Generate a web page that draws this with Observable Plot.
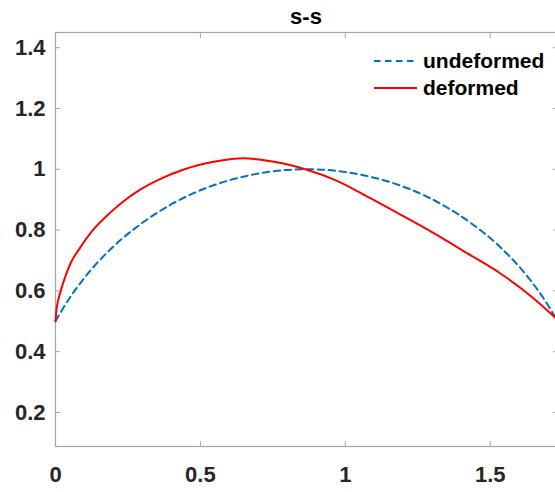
<!DOCTYPE html>
<html>
<head>
<meta charset="utf-8">
<script src="https://cdn.jsdelivr.net/npm/d3@7"></script>
<script src="https://cdn.jsdelivr.net/npm/@observablehq/plot@0.6"></script>
<style>
  html, body { margin: 0; padding: 0; background: #fff; overflow: hidden; width: 555px; height: 492px; }
  #wrap { position: relative; width: 557px; font-family: "Liberation Sans", Arial, sans-serif; }
  #title { height: 31px; width: 557px; padding-left: 55px; box-sizing: border-box; text-align: center; font-weight: bold; font-size: 22px; line-height: 34px; color: #000; }
  #legend { position: absolute; left: 373px; top: 47px; font-weight: bold; font-size: 21px; color: #000; }
  .item { display: flex; align-items: center; height: 27px; }
  .item svg { margin-right: 6px; }
</style>
</head>
<body>
<div id="wrap">
  <div id="title">s-s</div>
  <div id="chart"></div>
  <div id="legend"></div>
</div>
<script>
// Series
const undeformedX = [0, 0.02, 0.05, 0.1, 0.2, 0.3, 0.4, 0.5, 0.6, 0.7, 0.8, 0.866, 0.932, 1.032, 1.132, 1.232, 1.332, 1.432, 1.532, 1.632, 1.682, 1.712, 1.732];
const undeformedY = [0.5, 0.533, 0.578, 0.643, 0.746, 0.824, 0.885, 0.931, 0.964, 0.986, 0.998, 1.0, 0.998, 0.986, 0.964, 0.931, 0.885, 0.824, 0.746, 0.643, 0.578, 0.533, 0.5];
const deformedX = [0, 0.003, 0.01, 0.018, 0.035, 0.054, 0.08, 0.129, 0.186, 0.235, 0.284, 0.364, 0.445, 0.537, 0.617, 0.65, 0.72, 0.79, 0.862, 0.971, 1.086, 1.19, 1.305, 1.42, 1.534, 1.649, 1.732];
const deformedY = [0.5, 0.535, 0.572, 0.6, 0.65, 0.695, 0.735, 0.8, 0.855, 0.895, 0.928, 0.969, 1.0, 1.023, 1.035, 1.036, 1.03, 1.018, 1.0, 0.962, 0.905, 0.851, 0.79, 0.724, 0.658, 0.576, 0.505];
const seriesNames = ["undeformed", "deformed"];
const seriesColors = ["#0072BD", "#FF0000"];
const xTicks = [0, 0.5, 1, 1.5];
const yTicks = [0.2, 0.4, 0.6, 0.8, 1, 1.2, 1.4];
const xDomain = [0, 1.732];
const yDomain = [0.088, 1.45];

const undeformed = undeformedX.map((x, i) => ({x, y: undeformedY[i]}));
const deformed = deformedX.map((x, i) => ({x, y: deformedY[i]}));

const fmt = d => String(+d.toFixed(1));
const axisColor = "#a6a6a6";
const textColor = "#262626";

const plot = Plot.plot({
  width: 557,
  height: 461,
  marginLeft: 55,
  marginRight: 0,
  marginTop: 1,
  marginBottom: 46,
  style: { fontFamily: "Liberation Sans, Arial, sans-serif", fontSize: "22px", fontWeight: "bold", overflow: "visible", background: "transparent" },
  x: { domain: xDomain },
  y: { domain: yDomain },
  marks: [
    Plot.frame({ stroke: axisColor, strokeWidth: 1.2 }),
    Plot.line(undeformed, { x: "x", y: "y", stroke: seriesColors[0], strokeWidth: 2, strokeDasharray: "6.5,4.5", curve: "monotone-x" }),
    Plot.line(deformed, { x: "x", y: "y", stroke: seriesColors[1], strokeWidth: 2, curve: "monotone-x" }),
    // labels
    Plot.axisX({ ticks: xTicks, tickFormat: fmt, tickSize: 0, tickPadding: 20, fill: textColor, fontSize: 22, fontWeight: "bold", label: null }),
    Plot.axisY({ ticks: yTicks, tickFormat: fmt, tickSize: 0, tickPadding: 10, fill: textColor, fontSize: 22, fontWeight: "bold", label: null }),
    // inward ticks
    Plot.axisX({ ticks: xTicks, anchor: "bottom", tickSize: -5, text: null, stroke: axisColor, label: null }),
    Plot.axisX({ ticks: xTicks, anchor: "top", tickSize: -5, text: null, stroke: axisColor, label: null }),
    Plot.axisY({ ticks: yTicks, anchor: "left", tickSize: -5, text: null, stroke: axisColor, label: null }),
    Plot.axisY({ ticks: yTicks, anchor: "right", tickSize: -5, text: null, stroke: axisColor, label: null })
  ]
});
document.getElementById("chart").appendChild(plot);

// legend
const legend = document.getElementById("legend");
seriesNames.forEach((name, i) => {
  const item = document.createElement("div");
  item.className = "item";
  const dash = i === 0 ? 'stroke-dasharray="6.5,4.5"' : "";
  item.innerHTML = `<svg width="44" height="6"><line x1="1" y1="3" x2="44" y2="3" stroke="${seriesColors[i]}" stroke-width="2" ${dash}/></svg><span>${name}</span>`;
  legend.appendChild(item);
});
</script>
</body>
</html>
